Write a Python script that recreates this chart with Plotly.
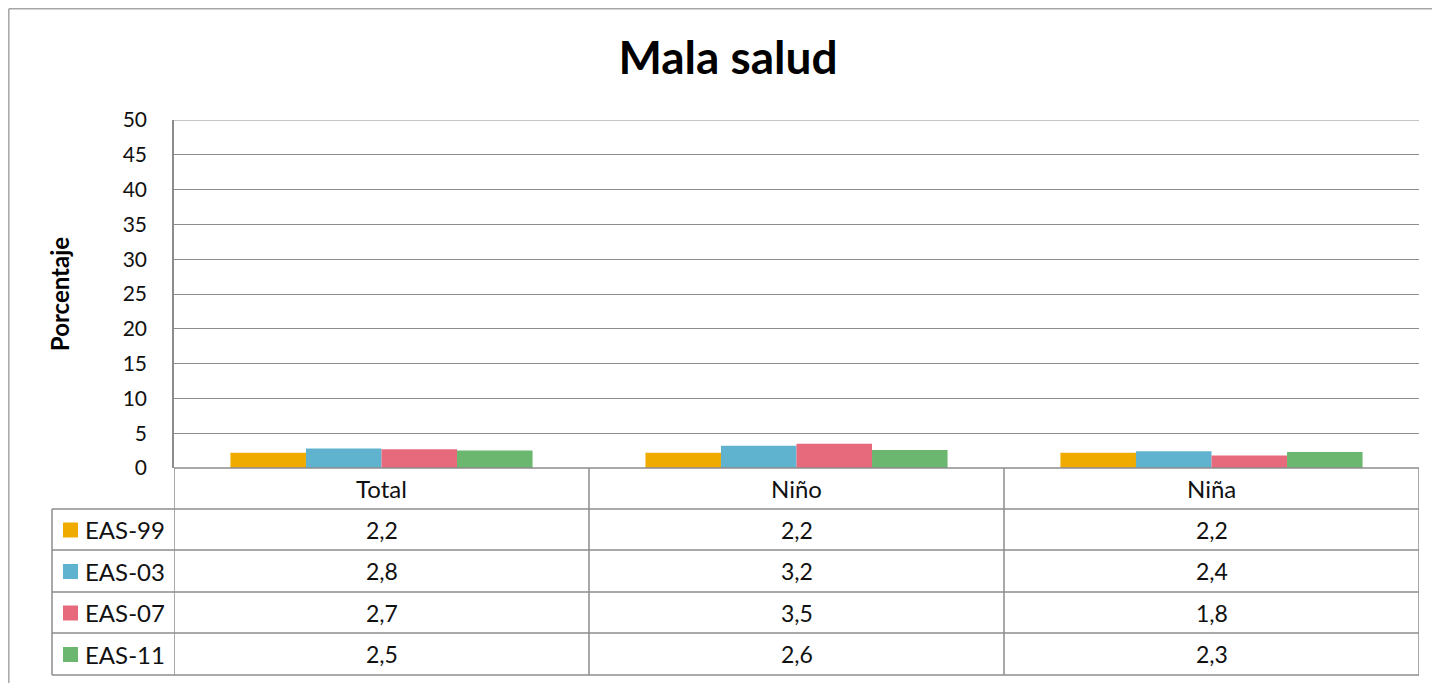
import plotly.graph_objects as go

categories = ["Total", "Niño", "Niña"]
series_names = ["EAS-99", "EAS-03", "EAS-07", "EAS-11"]
eas99 = [2.2, 2.2, 2.2]
eas03 = [2.8, 3.2, 2.4]
eas07 = [2.7, 3.5, 1.8]
eas11 = [2.5, 2.6, 2.3]
series_values = [eas99, eas03, eas07, eas11]
colors = ["#F0AB00", "#5FB3CE", "#E66A7C", "#6BB76F"]
y_ticks = [0, 5, 10, 15, 20, 25, 30, 35, 40, 45, 50]

OFF = 8  # page body margin
W, H = 1440 - OFF, 683 - OFF
PL, PR, PT, PB = 174, 1419, 120, 468  # plot area in page pixels
L, R, T, B = PL - OFF, W - (PR - OFF), PT - OFF, H - (PB - OFF)
PW, PH = PR - PL, PB - PT
FONT = "Lato"
LINE = "#8C8C8C"


def px(x):
    return (x - PL) / PW


def py(y):
    return (PB - y) / PH


fig = go.Figure()
xs = list(range(len(categories)))
for name, vals, c in zip(series_names, series_values, colors):
    fig.add_trace(go.Bar(x=xs, y=vals, name=name, marker=dict(color=c, line=dict(width=0))))

shapes = []
annotations = []

# top gridline at the axis maximum
shapes.append(dict(type="line", xref="paper", yref="y", x0=0, x1=1, y0=y_ticks[-1], y1=y_ticks[-1],
                   line=dict(color=LINE, width=1.2)))

row_edges = [468, 509, 550, 592, 633, 675]
x_left_legend = 52
for i, ry in enumerate(row_edges):
    x0 = px(PL) if i == 0 else px(x_left_legend)
    shapes.append(dict(type="line", xref="paper", yref="paper", x0=x0, x1=1, y0=py(ry), y1=py(ry),
                       line=dict(color=LINE, width=1.5)))
for xv in [-0.5, 0.5, 1.5, 2.5]:
    shapes.append(dict(type="line", xref="x", yref="paper", x0=xv, x1=xv, y0=py(row_edges[0]), y1=py(row_edges[-1]),
                       line=dict(color=LINE, width=1.5)))
shapes.append(dict(type="line", xref="paper", yref="paper", x0=px(x_left_legend), x1=px(x_left_legend),
                   y0=py(row_edges[1]), y1=py(row_edges[-1]), line=dict(color=LINE, width=1.5)))

hc = (row_edges[0] + row_edges[1]) / 2
for i, cat in enumerate(categories):
    annotations.append(dict(x=i, y=py(hc), xref="x", yref="paper", text=cat, showarrow=False,
                            font=dict(family=FONT, size=24, color="#111"), yanchor="middle"))

for r, (name, vals, c) in enumerate(zip(series_names, series_values, colors)):
    yc = (row_edges[r + 1] + row_edges[r + 2]) / 2
    shapes.append(dict(type="rect", xref="paper", yref="paper", x0=px(63), x1=px(78), y0=py(yc - 7), y1=py(yc + 8),
                       fillcolor=c, line=dict(width=0)))
    annotations.append(dict(x=px(83), y=py(yc), xref="paper", yref="paper", text=name, showarrow=False,
                            xanchor="left", yanchor="middle", font=dict(family=FONT, size=24, color="#111")))
    for i, v in enumerate(vals):
        annotations.append(dict(x=i, y=py(yc), xref="x", yref="paper", text=f"{v:.1f}".replace(".", ","),
                                showarrow=False, yanchor="middle", font=dict(family=FONT, size=23, color="#111")))

# outer frame (left and top edges)
shapes.append(dict(type="line", xref="paper", yref="paper", x0=px(8.8), x1=px(8.8), y0=py(8.8), y1=py(700),
                   line=dict(color="#A6A6A6", width=1.5)))
shapes.append(dict(type="line", xref="paper", yref="paper", x0=px(8.8), x1=px(1450), y0=py(8.8), y1=py(8.8),
                   line=dict(color="#A6A6A6", width=1.5)))

fig.update_layout(
    width=W, height=H,
    margin=dict(l=L, r=R, t=T, b=B, pad=0),
    paper_bgcolor="white", plot_bgcolor="white",
    barmode="group", bargap=0.272, bargroupgap=0,
    showlegend=False,
    title=dict(text="<b>Mala salud</b>", x=(728 - OFF) / W, xref="container", xanchor="center",
               y=1 - (58 - OFF) / H, yref="container", yanchor="middle",
               font=dict(family=FONT, size=46, color="#000")),
    xaxis=dict(range=[-0.5, 2.5], showticklabels=False, showgrid=False, zeroline=False, showline=False,
               fixedrange=True),
    yaxis=dict(range=[0, 50], tickvals=y_ticks, ticktext=[str(t) for t in y_ticks],
               showgrid=True, gridcolor=LINE, gridwidth=1.2, zeroline=False,
               showline=True, linecolor=LINE, linewidth=1.5,
               ticks="", ticklabelstandoff=21,
               tickfont=dict(family=FONT, size=21, color="#111"),
               title=dict(text="<b>Porcentaje</b>", font=dict(family=FONT, size=24, color="#000"), standoff=46)),
    shapes=shapes,
    annotations=annotations,
)

fig.write_html("out.html")
